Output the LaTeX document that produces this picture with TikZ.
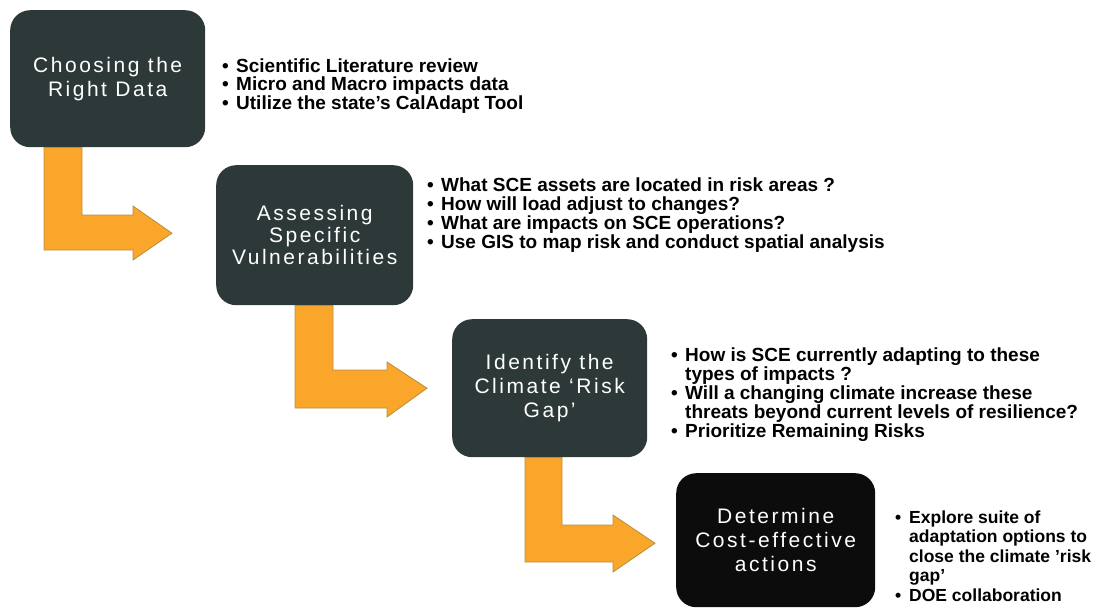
\documentclass[tikz,border=0pt]{standalone}
\usepackage{fontspec}
\setmainfont{Liberation Sans}
\newfontfamily\titlefont[LetterSpace=12]{Liberation Sans}
\usetikzlibrary{calc}
\definecolor{boxgray}{HTML}{2D3939}
\definecolor{boxblack}{HTML}{0C0C0C}
\definecolor{arrowfill}{HTML}{F9A62B}
\definecolor{arrowline}{HTML}{B8903F}
\newcommand\bitem{\makebox[14pt][l]{\textbullet}}
\newcommand\bcont{\hspace*{14pt}}
\begin{document}
\begin{tikzpicture}[x=1pt,y=-1pt,
  stepbox/.style={rounded corners=20pt, fill=boxgray, text=white, align=center,
    font=\titlefont\fontsize{21}{24}\selectfont, inner sep=0pt, anchor=north west},
  bentarrow/.style={fill=arrowfill, draw=arrowline, line width=0.8pt, line join=miter},
  bullets/.style={anchor=west, align=left, font=\bfseries\fontsize{19}{18.5}\selectfont,
    inner sep=0pt, text=black}]
\useasboundingbox (0,0) rectangle (1117,610);

% boxes
\node[stepbox, minimum width=195pt, minimum height=137pt] (b1) at (10,10)
  {Choosing the\\Right Data};
\node[stepbox, minimum width=197pt, minimum height=140pt,
  font=\titlefont\fontsize{21}{22}\selectfont] (b2) at (216,165)
  {Assessing\\Specific\\Vulnerabilities};
\node[stepbox, minimum width=195pt, minimum height=138pt] (b3) at (452,319)
  {Identify the\\Climate ‘Risk\\Gap’};
\node[stepbox, fill=boxblack, minimum width=199pt, minimum height=134pt] (b4) at (676,473)
  {Determine\\Cost-effective\\actions};

% bent arrows
\draw[bentarrow] (44,0 |- b1.south) -- (44,250) -- (133,250) -- (133,260)
  -- ($(b2.west)+(-44,-2)$) -- (133,206) -- (133,215) -- (82,215)
  -- (82,0 |- b1.south) -- cycle;
\draw[bentarrow] (295,0 |- b2.south) -- (295,408) -- (387,408) -- (387,417)
  -- ($(b3.west)+(-25,0)$) -- (387,362) -- (387,370) -- (333,370)
  -- (333,0 |- b2.south) -- cycle;
\draw[bentarrow] (525,0 |- b3.south) -- (525,562) -- (613,562) -- (613,572)
  -- ($(b4.west)+(-21,3)$) -- (613,515) -- (613,525) -- (562,525)
  -- (562,0 |- b3.south) -- cycle;

% bullet lists
\node[bullets] (l1) at (222,86)
  {\bitem Scientific Literature review\\
   \bitem Micro and Macro impacts data\\
   \bitem Utilize the state’s CalAdapt Tool};
\node[bullets, font=\bfseries\fontsize{19}{19}\selectfont] (l2) at (427,215)
  {\bitem What SCE assets are located in risk areas ?\\
   \bitem How will load adjust to changes?\\
   \bitem What are impacts on SCE operations?\\
   \bitem Use GIS to map risk and conduct spatial analysis};
\node[bullets, font=\bfseries\fontsize{19}{19}\selectfont] (l3) at (671,395)
  {\bitem How is SCE currently adapting to these\\
   \bcont types of impacts ?\\
   \bitem Will a changing climate increase these\\
   \bcont threats beyond current levels of resilience?\\
   \bitem Prioritize Remaining Risks};
\node[bullets, font=\bfseries\fontsize{17.5}{19.5}\selectfont] (l4) at (895,556)
  {\bitem Explore suite of\\
   \bcont adaptation options to\\
   \bcont close the climate ’risk\\
   \bcont gap’\\
   \bitem DOE collaboration};
\end{tikzpicture}
\end{document}
